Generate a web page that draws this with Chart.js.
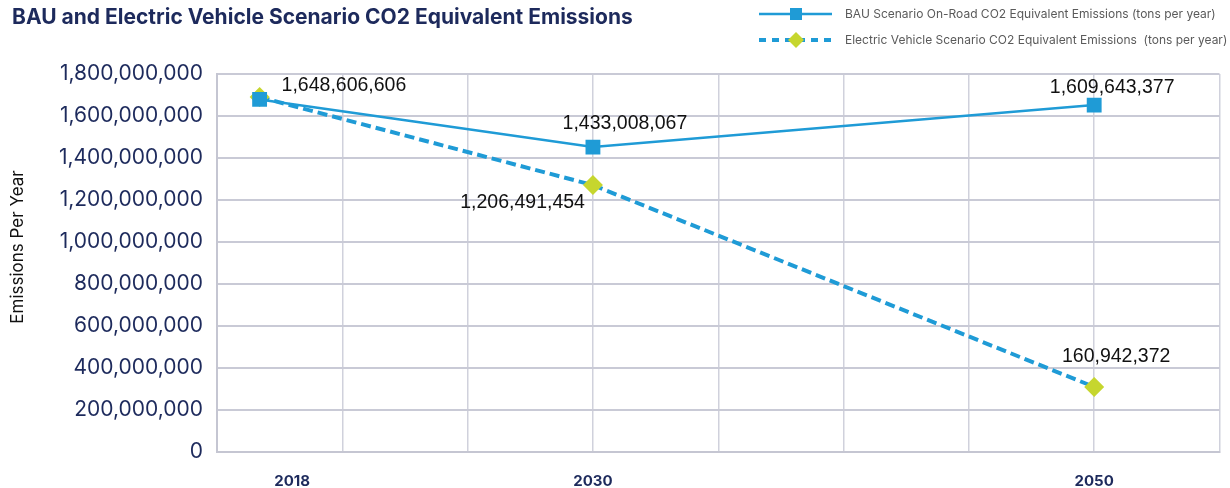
<!DOCTYPE html>
<html>
<head>
<meta charset="utf-8">
<script src="https://cdn.jsdelivr.net/npm/chart.js@4.4.1/dist/chart.umd.min.js"></script>
<style>
  html, body { margin: 0; padding: 0; background: #fff; }
  canvas { display: block; }
</style>
</head>
<body>
<canvas id="chart" width="1230" height="488"></canvas>
<script>
const chartTitle = 'BAU and Electric Vehicle Scenario CO2 Equivalent Emissions';
const yAxisTitle = 'Emissions Per Year';
const bauName = 'BAU Scenario On-Road CO2 Equivalent Emissions (tons per year)';
const evName = 'Electric Vehicle Scenario CO2 Equivalent Emissions  (tons per year)';

// year ticks shown under the axis, and where the points sit on it
const tickYears = [2018, 2030, 2050];
const pointYears = [2016.7, 2030, 2050];

// values as plotted in the picture
const bauValues = [1679000000, 1452000000, 1652000000];
const evValues = [1690000000, 1271000000, 310000000];

// data labels as printed
const bauText = ['1,648,606,606', '1,433,008,067', '1,609,643,377'];
const evText = [null, '1,206,491,454', '160,942,372'];

const blue = '#1f9bd6';
const lime = '#c6d62e';
const navy = '#1d2a5c';

// label placement per point: dx, dy, align
const bauPlace = [[22, -14, 'left'], [32, -23, 'center'], [18, -17, 'center']];
const evPlace = [null, [-8, 18, 'right'], [22, -30, 'center']];

const extras = {
  id: 'extras',
  afterDatasetsDraw(chart) {
    const ctx = chart.ctx;
    ctx.save();
    ctx.font = '19.5px "Liberation Sans", Arial, sans-serif';
    ctx.fillStyle = '#111';
    ctx.textBaseline = 'middle';
    const put = (meta, texts, place) => {
      meta.data.forEach((pt, i) => {
        if (!texts[i]) return;
        const [dx, dy, al] = place[i];
        ctx.textAlign = al;
        ctx.fillText(texts[i], pt.x + dx, pt.y + dy);
      });
    };
    put(chart.getDatasetMeta(0), bauText, bauPlace);
    put(chart.getDatasetMeta(1), evText, evPlace);
    ctx.restore();
  },
  afterDraw(chart) {
    const ctx = chart.ctx;
    ctx.save();
    // title
    ctx.fillStyle = navy;
    ctx.font = '700 21px Inter, sans-serif';
    ctx.textAlign = 'left';
    ctx.textBaseline = 'middle';
    ctx.fillText(chartTitle, 12, 18);

    // y axis title
    ctx.save();
    ctx.translate(18, 247);
    ctx.rotate(-Math.PI / 2);
    ctx.fillStyle = '#111';
    ctx.font = '17px Inter, sans-serif';
    ctx.textAlign = 'center';
    ctx.fillText(yAxisTitle, 0, 0);
    ctx.restore();

    // legend
    ctx.strokeStyle = blue;
    ctx.lineWidth = 2.5;
    ctx.beginPath();
    ctx.moveTo(759, 14);
    ctx.lineTo(832, 14);
    ctx.stroke();
    ctx.fillStyle = blue;
    ctx.fillRect(790, 8, 12, 12);

    ctx.lineWidth = 4;
    ctx.setLineDash([7, 6]);
    ctx.beginPath();
    ctx.moveTo(759, 40);
    ctx.lineTo(832, 40);
    ctx.stroke();
    ctx.setLineDash([]);
    ctx.fillStyle = lime;
    ctx.beginPath();
    ctx.moveTo(796, 32);
    ctx.lineTo(804, 40);
    ctx.lineTo(796, 48);
    ctx.lineTo(788, 40);
    ctx.closePath();
    ctx.fill();

    ctx.fillStyle = '#5a5a5a';
    ctx.font = '12px Inter, sans-serif';
    ctx.textAlign = 'left';
    ctx.fillText(bauName, 845, 14);
    ctx.fillText(evName, 845, 40);
    ctx.restore();
  }
};

new Chart(document.getElementById('chart'), {
  type: 'line',
  data: {
    datasets: [{
      label: bauName,
      data: pointYears.map((x, i) => ({ x: x, y: bauValues[i] })),
      borderColor: blue,
      borderWidth: 2.5,
      backgroundColor: blue,
      pointStyle: 'rect',
      pointRadius: 10.5,
      pointBorderWidth: 0,
      pointBackgroundColor: blue,
    }, {
      label: evName,
      data: pointYears.map((x, i) => ({ x: x, y: evValues[i] })),
      borderColor: blue,
      borderWidth: 4,
      borderDash: [10, 5],
      pointStyle: 'rectRot',
      pointRadius: 10,
      pointBorderWidth: 0,
      pointBackgroundColor: lime,
    }]
  },
  options: {
    responsive: false,
    devicePixelRatio: 1,
    animation: false,
    layout: { padding: { top: 74, right: -1, left: 0, bottom: 0 } },
    plugins: {
      legend: { display: false },
      tooltip: { enabled: false },
    },
    scales: {
      x: {
        type: 'linear',
        min: 2015,
        max: 2055,
        afterBuildTicks(scale) {
          const vals = [];
          for (let v = 2015; v <= 2055; v += 5) vals.push(v);
          tickYears.forEach(v => { if (!vals.includes(v)) vals.push(v); });
          vals.sort((a, b) => a - b);
          scale.ticks = vals.map(v => ({ value: v }));
        },
        afterFit(scale) {
          scale.height = 36;
          scale.paddingLeft = 0;
          scale.paddingRight = 0;
        },
        ticks: {
          autoSkip: false,
          maxRotation: 0,
          padding: 20,
          color: navy,
          font: { family: 'Inter', size: 15, weight: '700' },
          callback: v => tickYears.includes(v) ? String(v) : '',
        },
        grid: {
          drawTicks: false,
          lineWidth: 1.5,
          color: c => (c.tick && c.tick.value % 5 !== 0) ? 'rgba(0,0,0,0)' : '#d0d1dc',
        },
        border: { display: true, color: '#c5c6d2', width: 2 },
      },
      y: {
        min: 0,
        max: 1800000000,
        afterFit(scale) {
          scale.width = 217;
          scale.paddingTop = 0;
          scale.paddingBottom = 0;
        },
        ticks: {
          stepSize: 200000000,
          padding: 14,
          color: navy,
          font: { family: 'Inter', size: 21 },
          callback: v => v.toLocaleString('en-US'),
        },
        grid: {
          drawTicks: false,
          lineWidth: 2,
          color: '#c9cad6',
        },
        border: { display: true, color: '#c5c6d2', width: 2 },
      }
    }
  },
  plugins: [extras]
});
</script>
</body>
</html>
